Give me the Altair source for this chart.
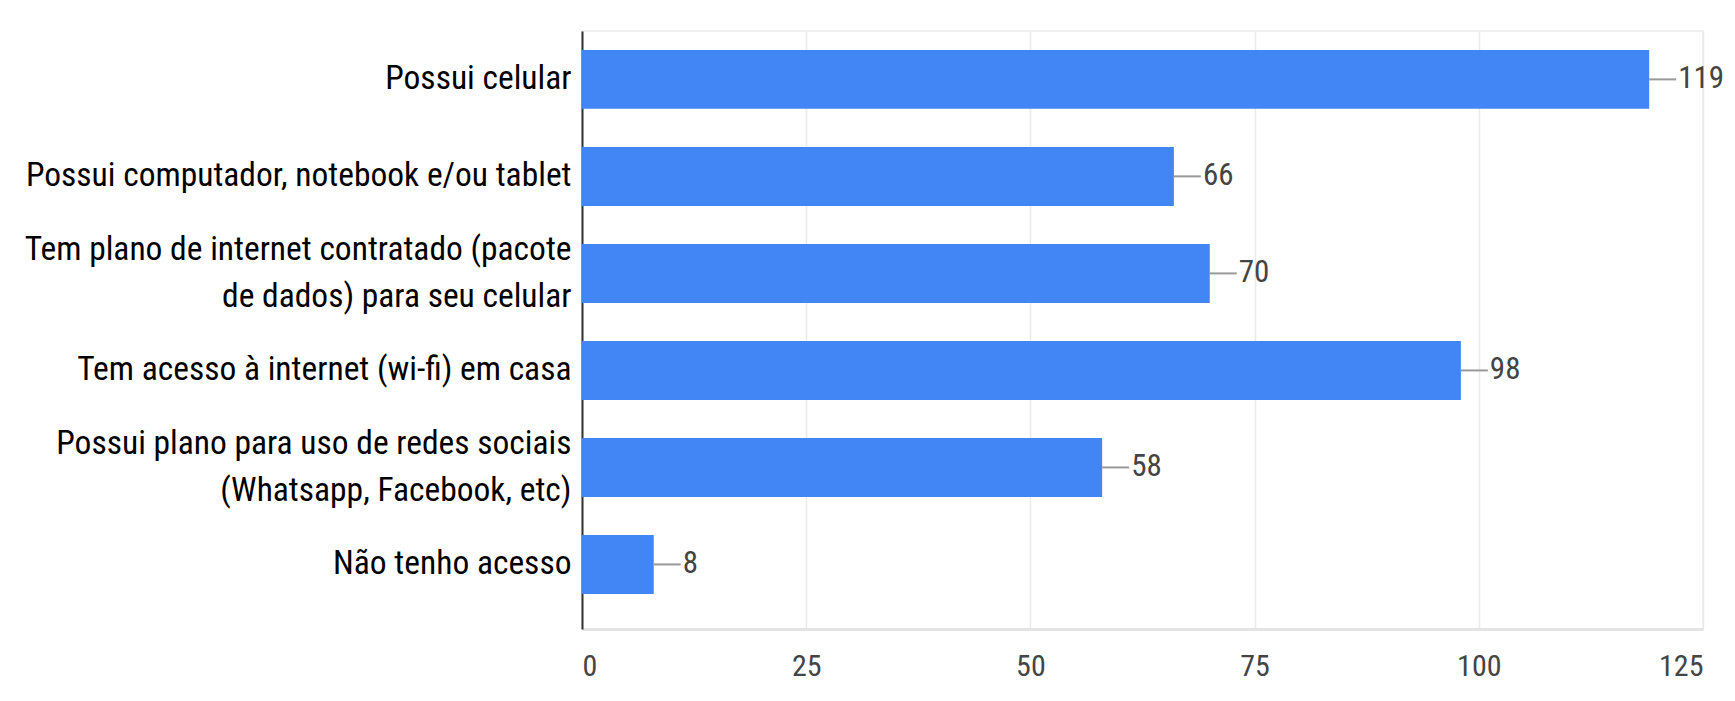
import altair as alt
import pandas as pd

categories = [
    "Possui celular",
    "Possui computador, notebook e/ou tablet",
    "Tem plano de internet contratado (pacote\nde dados) para seu celular",
    "Tem acesso à internet (wi-fi) em casa",
    "Possui plano para uso de redes sociais\n(Whatsapp, Facebook, etc)",
    "Não tenho acesso",
]
values = [119, 66, 70, 98, 58, 8]
x_ticks = [0, 25, 50, 75, 100, 125]

df = pd.DataFrame({"cat": categories, "value": values})

FONT = "Roboto Condensed, Liberation Sans, Arial, sans-serif"

y_enc = alt.Y(
    "cat:N",
    sort=None,
    title=None,
    scale=alt.Scale(paddingInner=0.392, paddingOuter=0.278, align=0.35),
    axis=alt.Axis(
        labelExpr="split(datum.label, '\\n')",
        labelFont=FONT,
        labelFontSize=33.5,
        labelColor="#000000",
        labelLineHeight=47.5,
        labelPadding=11,
        labelLimit=700,
        labelOffset={"condition": {"test": "indexof(datum.value, '\\n') >= 0", "value": -23.75}, "value": 0},
        ticks=False,
        domainColor="#333333",
        domainWidth=2,
        grid=False,
    ),
)

x_scale = alt.Scale(domain=[0, 125], nice=False)

bars = alt.Chart(df).mark_bar(color="#4285F4").encode(
    x=alt.X(
        "value:Q",
        scale=x_scale,
        title=None,
        axis=alt.Axis(
            values=x_ticks,
            labelFont=FONT,
            labelFontSize=30,
            labelColor="#444444",
            labelPadding=22,
            ticks=False,
            domainColor="#e4e4e4",
            domainWidth=3,
            gridColor="#ebebeb",
            gridWidth=1.5,
        ),
    ),
    y=y_enc,
)

leaders = alt.Chart(df).mark_rule(color="#999999", strokeWidth=2, x2Offset=27).encode(
    x=alt.X("value:Q", scale=x_scale),
    x2="value:Q",
    y=alt.Y("cat:N", sort=None),
)

labels = alt.Chart(df).mark_text(
    align="left", baseline="middle", dx=29, font=FONT, fontSize=31, color="#444444"
).encode(
    x=alt.X("value:Q", scale=x_scale),
    y=alt.Y("cat:N", sort=None),
    text="value:Q",
)

chart = (
    alt.layer(bars, leaders, labels)
    .properties(
        width=1121,
        height=598,
        autosize=alt.AutoSizeParams(type="none"),
        padding={"left": 574, "top": 23, "right": 24, "bottom": 64},
    )
    .configure_view(stroke="#ebebeb", strokeWidth=1.5)
)

chart.save("out.html", embed_options={"renderer": "svg", "actions": False})
